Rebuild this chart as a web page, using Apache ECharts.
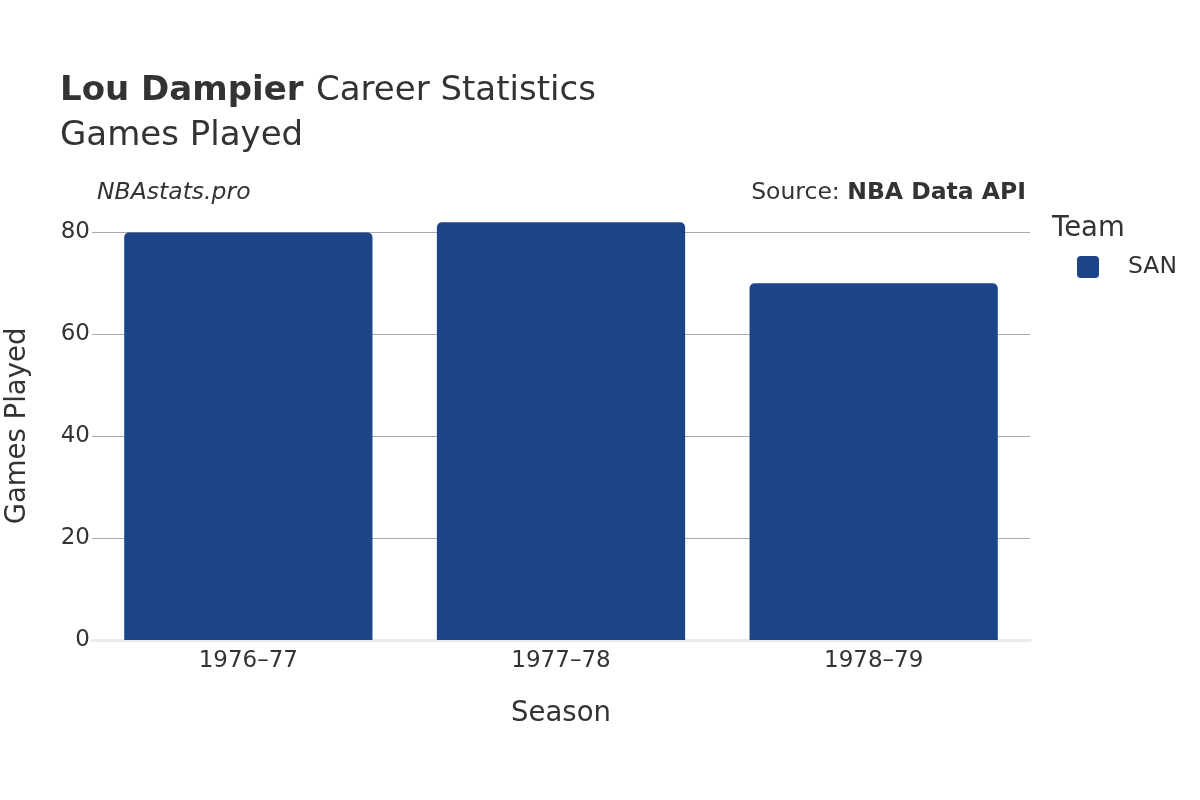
<!DOCTYPE html>
<html><head><meta charset="utf-8">
<script src="https://cdn.jsdelivr.net/npm/echarts@6/dist/echarts.min.js"></script>
<style>html,body{margin:0;padding:0;background:#fff}#c{width:1200px;height:800px}</style>
</head><body><div id="c"></div>
<script>
const seasons = ['1976–77', '1977–78', '1978–79'];
const gamesPlayed = [80, 82, 70];
const teamName = 'SAN';
const yTicks = [0, 20, 40, 60, 80];

const F = 'DejaVu Sans';
const chart = echarts.init(document.getElementById('c'));
chart.setOption({
  backgroundColor: '#fff',
  textStyle: { fontFamily: F },
  title: [
    { left: 60, top: 74, padding: 0, text: '{b|Lou Dampier}  {n|Career Statistics}',
      textStyle: { rich: { b: { fontFamily: F, fontSize: 34, fontWeight: 'bold', color: '#333' },
                           n: { fontFamily: F, fontSize: 34, fontWeight: 'normal', color: '#333' } } } },
    { left: 60, top: 119, padding: 0, text: 'Games Played', textStyle: { fontFamily: F, fontSize: 34, fontWeight: 'normal', color: '#333' } },
    { left: 97, top: 181, padding: 0, text: 'NBAstats.pro', textStyle: { fontFamily: F, fontSize: 23.5, fontStyle: 'italic', fontWeight: 'normal', color: '#333' } },
    { right: 174, top: 181, padding: 0, text: '{n|Source: }{b|NBA Data API}',
      textStyle: { rich: { n: { fontFamily: F, fontSize: 23.5, fontWeight: 'normal', color: '#333' }, b: { fontFamily: F, fontSize: 23.5, fontWeight: 'bold', color: '#333' } } } },
    { left: 1052, top: 215, padding: 0, text: 'Team', textStyle: { fontFamily: F, fontSize: 27.5, fontWeight: 'normal', color: '#333' } }
  ],
  legend: {
    left: 1077, top: 255, orient: 'vertical', padding: 0,
    itemWidth: 22, itemHeight: 22, itemGap: 10,
    icon: 'path://M4,0 H18 A4,4 0 0 1 22,4 V18 A4,4 0 0 1 18,22 H4 A4,4 0 0 1 0,18 V4 A4,4 0 0 1 4,0 Z',
    textStyle: { fontFamily: F, fontSize: 23.5, color: '#333', padding: [0, 0, 0, 24] },
    data: [teamName]
  },
  grid: { left: 92, right: 170, top: 212, bottom: 160, containLabel: false, outerBoundsMode: 'none' },
  xAxis: {
    type: 'category', data: seasons,
    name: 'Season', nameLocation: 'middle', nameGap: 60,
    nameTextStyle: { fontFamily: F, fontSize: 27.5, color: '#333' },
    axisLine: { show: true, lineStyle: { color: '#ebebeb', width: 3 } },
    axisTick: { show: false },
    axisLabel: { fontFamily: F, fontSize: 23, color: '#333', margin: 10 }
  },
  yAxis: {
    type: 'value', min: 0, max: 84, interval: 20,
    name: 'Games Played', nameLocation: 'middle', nameGap: 60,
    nameTextStyle: { fontFamily: F, fontSize: 27.5, color: '#333' },
    axisLine: { show: false }, axisTick: { show: false },
    axisLabel: { fontFamily: F, fontSize: 23, color: '#333', margin: 2,
      formatter: v => yTicks.includes(v) ? String(v) : '' },
    splitLine: { showMaxLine: false, lineStyle: { color: '#aaaaaa', width: 1 } }
  },
  series: [{
    name: teamName, type: 'bar', data: gamesPlayed,
    barCategoryGap: '20.6%',
    itemStyle: { color: '#1d4388', borderRadius: [5, 5, 0, 0] },
    emphasis: { disabled: true }
  }],
  animation: false
});
</script></body></html>
